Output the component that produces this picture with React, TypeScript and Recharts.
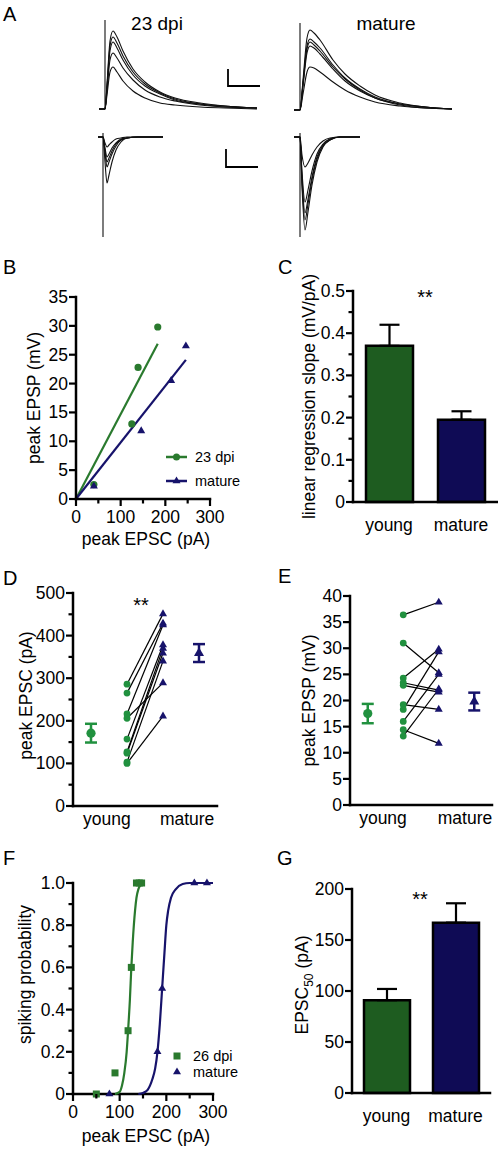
import React from 'react';
import {
  BarChart, Bar, Cell, ErrorBar, XAxis, YAxis, ScatterChart, Scatter,
  LineChart, Line, ReferenceLine, Label,
} from 'recharts';

const FONT = '"Liberation Sans", Arial, Helvetica, sans-serif';
const GREEN_BAR = '#1e5c20';
const NAVY_BAR = '#0f0b55';
const GREEN_DOT = '#21913f';
const GREEN_LINE = '#2a7a2e';
const NAVY = '#17136b';
const AXIS = { stroke: '#000', strokeWidth: 2.5, strokeLinecap: 'square' as const };

// A: example traces, amplitude relative to baseline
const epspYoungTime = [-6, 0, 2, 5, 8, 12, 18, 28, 40, 55, 70, 95, 120, 152];
const epspYoung = [
  [0, 0, 25, 68, 78, 72, 58, 40, 27, 17, 11, 6, 3, 1],
  [0, 0, 23, 63, 72, 66, 53, 37, 25, 16, 10, 5, 3, 1],
  [0, 0, 21, 58, 67, 61, 49, 34, 23, 15, 9, 5, 2, 1],
  [0, 0, 18, 49, 56, 51, 41, 29, 19, 12, 8, 4, 2, 1],
  [0, 0, 14, 37, 42, 37, 28, 18, 11, 6, 4, 2, 1, 0],
];
const epspMatureTime = [-6, 0, 3, 7, 10, 14, 20, 33, 45, 60, 75, 100, 125, 152];
const epspMature = [
  [0, 0, 30, 72, 80, 77, 70, 50, 36, 24, 15, 7, 3, 1],
  [0, 0, 27, 64, 71, 68, 62, 45, 32, 21, 13, 6, 3, 1],
  [0, 0, 26, 61, 68, 65, 59, 43, 31, 20, 12, 6, 3, 1],
  [0, 0, 24, 57, 64, 62, 56, 41, 29, 19, 12, 5, 2, 1],
  [0, 0, 16, 38, 43, 42, 38, 28, 20, 13, 8, 4, 2, 1],
];
const epscYoungTime = [-5, 0, 2, 4, 6, 9, 13, 18, 24, 35, 60];
const epscYoung = [
  [0, 0, -25, -46, -38, -25, -13, -5, -1, 0, 0],
  [0, 0, -16, -30, -25, -17, -9, -3, -1, 0, 0],
  [0, 0, -13, -25, -21, -14, -7, -3, -1, 0, 0],
  [0, 0, -11, -20, -17, -11, -6, -2, -1, 0, 0],
  [0, 0, -6, -10, -8, -5, -2, -1, 0, 0, 0],
];
const epscMatureTime = [-6, 0, 2, 5, 8, 12, 17, 23, 30, 40, 60];
const epscMature = [
  [0, 0, -50, -93, -75, -48, -25, -10, -3, 0, 0],
  [0, 0, -45, -83, -67, -43, -22, -9, -3, 0, 0],
  [0, 0, -40, -76, -62, -40, -20, -8, -2, 0, 0],
  [0, 0, -35, -65, -53, -34, -17, -7, -2, 0, 0],
  [0, 0, -18, -30, -26, -18, -10, -4, -1, 0, 0],
];

// B
const bYoungX = [40, 125, 139, 183];
const bYoungY = [2.5, 13, 22.8, 29.8];
const bMatureX = [40, 146, 213, 246];
const bMatureY = [2.2, 11.8, 20.5, 26.5];
const bFitYoungX = [0, 183];
const bFitYoungY = [0, 26.9];
const bFitMatureX = [0, 246];
const bFitMatureY = [0, 24.1];

// C, G
const groups = ['young', 'mature'];
const slopeMean = [0.37, 0.195];
const slopeSem = [0.05, 0.02];
const ec50Mean = [91, 167];
const ec50Sem = [11, 19];

// D
const dYoung = [100, 103, 124, 127, 157, 206, 216, 265, 286];
const dMature = [211, 340, 359, 370, 378, 289, 425, 429, 451];
const dMean = [171, 359];
const dSem = [22, 21];

// E
const eYoung = [36.4, 31.0, 24.3, 23.4, 22.9, 19.2, 18.3, 16.0, 14.4, 13.2];
const eMature = [38.8, 25.3, 29.8, 22.0, 21.6, 18.3, 29.3, 25.0, 11.8, 22.2];
const eMean = [17.5, 19.8];
const eSem = [1.85, 1.7];

// F
const fYoungX = [50, 90, 118, 125, 136, 142, 147];
const fYoungY = [0, 0.1, 0.3, 0.6, 1, 1, 1];
const fMatureX = [78, 181, 191, 260, 287];
const fMatureY = [0, 0.2, 0.5, 1, 1];
const fYoungCurveX = [90, 100, 105, 110, 115, 118, 122, 125, 128, 133, 136, 140, 145, 150];
const fYoungCurveY = [0, 0.01, 0.04, 0.1, 0.2, 0.3, 0.45, 0.6, 0.72, 0.87, 0.93, 0.97, 0.99, 1];
const fMatureCurveX = [140, 150, 160, 170, 176, 181, 186, 191, 196, 200, 204, 210, 220, 235, 250, 300];
const fMatureCurveY = [0, 0.005, 0.02, 0.07, 0.12, 0.2, 0.33, 0.5, 0.67, 0.8, 0.87, 0.93, 0.97, 0.995, 1, 1];

const pts = (xs: number[], ys: number[]) => xs.map((x, i) => ({ x, y: ys[i] }));
const rowsOf = (times: number[], traces: number[][]) =>
  times.map((t, i) => {
    const r: Record<string, number> = { t };
    traces.forEach((tr, k) => { r['s' + k] = tr[i]; });
    return r;
  });

const triPath = (cx: number, cy: number, s: number) =>
  `M${cx},${cy - s * 0.577}L${cx + s / 2},${cy + s * 0.289}L${cx - s / 2},${cy + s * 0.289}Z`;
const dot = (r: number, fill: string) => (p: any) => <circle cx={p.cx} cy={p.cy} r={r} fill={fill} />;
const tri = (s: number, fill: string) => (p: any) => <path d={triPath(p.cx, p.cy, s)} fill={fill} />;
const sq = (s: number, fill: string) => (p: any) =>
  <rect x={p.cx - s / 2} y={p.cy - s / 2} width={s} height={s} fill={fill} />;
const noShape = () => <g />;

const yTick = (fmt: (v: number) => string) => (p: any) => {
  const label = fmt(p.payload.value);
  const major = label !== '';
  return (
    <g>
      <line x1={p.x} x2={p.x - (major ? 7 : 4.5)} y1={p.y} y2={p.y} stroke="#000" strokeWidth={2.2} />
      {major && (
        <text x={p.x - 8} y={p.y + 6} textAnchor="end" fontSize={17.5} fontFamily={FONT} fill="#000">{label}</text>
      )}
    </g>
  );
};
const xTick = (fmt: (v: number) => string) => (p: any) => {
  const label = fmt(p.payload.value);
  const major = label !== '';
  return (
    <g>
      <line x1={p.x} x2={p.x} y1={p.y} y2={p.y + (major ? 7 : 4.5)} stroke="#000" strokeWidth={2.2} />
      {major && (
        <text x={p.x} y={p.y + 24} textAnchor="middle" fontSize={17.5} fontFamily={FONT} fill="#000">{label}</text>
      )}
    </g>
  );
};
const catTick = (dy: number, pick: (v: any) => string) => (p: any) => (
  <text x={p.x} y={p.y + dy} textAnchor="middle" fontSize={17.5} fontFamily={FONT} fill="#000">
    {pick(p.payload.value)}
  </text>
);
const vLabel = (content: React.ReactNode, dx: number, dyc = 0) => (props: any) => {
  const vb = props.viewBox;
  const cx = vb.x + dx;
  const cy = vb.y + vb.height / 2 + dyc;
  return (
    <text x={cx} y={cy} dy="0.36em" transform={`rotate(-90 ${cx} ${cy})`} textAnchor="middle"
      fontSize={17.5} fontFamily={FONT} fill="#000">{content}</text>
  );
};
const hLabel = (text: string, dx: number, offset: number) => (props: any) => {
  const vb = props.viewBox;
  return (
    <text x={vb.x + vb.width / 2 + dx} y={vb.y + vb.height - offset} textAnchor="middle"
      fontSize={17.5} fontFamily={FONT} fill="#000">{text}</text>
  );
};

const fmtAll = (v: number) => String(v);
const fmt100 = (v: number) => (v % 100 === 0 ? String(v) : '');
const fmtTenth = (v: number) => (Math.round(v * 100) % 10 === 0 ? (v === 0 ? '0' : v.toFixed(1)) : '');
const fmtFifth = (v: number) => (Math.round(v * 10) % 2 === 0 ? (v === 0 ? '0' : v.toFixed(1)) : '');

const at = (left: number, top: number, child: React.ReactNode) => (
  <div style={{ position: 'absolute', left, top }}>{child}</div>
);

function Traces({ times, traces, width, height, xDomain, yDomain, artifact }: any) {
  return (
    <LineChart width={width} height={height} data={rowsOf(times, traces)} margin={{ top: 0, right: 0, bottom: 0, left: 0 }}>
      <XAxis type="number" dataKey="t" domain={xDomain} hide allowDataOverflow />
      <YAxis type="number" domain={yDomain} hide allowDataOverflow />
      {traces.map((_: number[], k: number) => (
        <Line key={k} dataKey={'s' + k} type="monotone" stroke="#111" strokeWidth={1.1} dot={false} isAnimationActive={false} />
      ))}
      <ReferenceLine segment={artifact} stroke="#111" strokeWidth={1.1} ifOverflow="visible" />
    </LineChart>
  );
}

function BarPanel({ mean, sem, yMax, yTicks, fmt, width, height, top, right, yW, xH, barSize, capW, label }: any) {
  const data = groups.map((g, i) => ({ name: g, v: mean[i], err: [0, sem[i]] }));
  return (
    <BarChart width={width} height={height} data={data} margin={{ top, right, left: 0, bottom: 0 }}>
      <XAxis dataKey="name" height={xH} axisLine={AXIS} tickLine={false} tickSize={0} tickMargin={0}
        interval={0} tick={catTick(29, (v) => v)} />
      <YAxis type="number" domain={[0, yMax]} ticks={yTicks} interval={0} width={yW} axisLine={AXIS}
        tickLine={false} tickSize={0} tickMargin={0} tick={yTick(fmt)}>
        <Label content={label} />
      </YAxis>
      <Bar dataKey="v" barSize={barSize} stroke="#000" strokeWidth={2.5} isAnimationActive={false}>
        <Cell fill={GREEN_BAR} />
        <Cell fill={NAVY_BAR} />
        <ErrorBar dataKey="err" direction="y" width={capW} strokeWidth={2.2} stroke="#000" />
      </Bar>
    </BarChart>
  );
}

function PairedPanel({ young, mature, mean, sem, yMax, yTicks, fmt, width, height, top, right, yW, xH, catTicks, label }: any) {
  const youngPts = young.map((v: number) => ({ x: 1.5, y: v }));
  const maturePts = mature.map((v: number) => ({ x: 2.5, y: v }));
  return (
    <ScatterChart width={width} height={height} margin={{ top, right, left: 0, bottom: 0 }}>
      <XAxis type="number" dataKey="x" domain={[0, 4]} ticks={catTicks} interval={0} height={xH} axisLine={AXIS}
        tickLine={false} tickSize={0} tickMargin={0} tick={catTick(19, (v) => (v < 2 ? groups[0] : groups[1]))} />
      <YAxis type="number" dataKey="y" domain={[0, yMax]} ticks={yTicks} interval={0} width={yW} axisLine={AXIS}
        tickLine={false} tickSize={0} tickMargin={0} tick={yTick(fmt)}>
        <Label content={label} />
      </YAxis>
      {young.map((v: number, i: number) => (
        <ReferenceLine key={i} segment={[{ x: 1.5, y: v }, { x: 2.5, y: mature[i] }]} stroke="#000" strokeWidth={1.2} />
      ))}
      <Scatter data={youngPts} shape={dot(3.4, GREEN_DOT)} isAnimationActive={false} />
      <Scatter data={maturePts} shape={tri(8, NAVY)} isAnimationActive={false} />
      <Scatter data={[{ x: 0.5, y: mean[0], err: sem[0] }]} shape={dot(4.6, GREEN_DOT)} isAnimationActive={false}>
        <ErrorBar dataKey="err" direction="y" width={6} strokeWidth={2.5} stroke={GREEN_DOT} />
      </Scatter>
      <Scatter data={[{ x: 3.5, y: mean[1], err: sem[1] }]} shape={tri(10, NAVY)} isAnimationActive={false}>
        <ErrorBar dataKey="err" direction="y" width={6} strokeWidth={2.5} stroke={NAVY} />
      </Scatter>
    </ScatterChart>
  );
}

const txt = (x: number, y: number, s: string, size: number, anchor: 'start' | 'middle' = 'start') => (
  <text x={x} y={y} fontSize={size} fontFamily={FONT} textAnchor={anchor} fill="#000">{s}</text>
);

export default function App() {
  const ticks = (a: number, b: number, step: number) => {
    const out: number[] = [];
    for (let i = 0; a + i * step <= b + 1e-9; i++) out.push(Math.round((a + i * step) * 1000) / 1000);
    return out;
  };
  return (
    <div style={{ position: 'absolute', left: 0, top: 0, width: 498, height: 1149, background: '#fff', overflow: 'hidden', fontFamily: FONT }}>
      {/* A */}
      {at(99, 15, <Traces times={epspYoungTime} traces={epspYoung} width={158} height={100}
        xDomain={[-6, 152]} yDomain={[-6, 94]} artifact={[{ x: 0, y: 0 }, { x: 0, y: 89 }]} />)}
      {at(294, 15, <Traces times={epspMatureTime} traces={epspMature} width={158} height={100}
        xDomain={[-6, 152]} yDomain={[-5, 95]} artifact={[{ x: 0, y: 0 }, { x: 0, y: 87 }]} />)}
      {at(98, 128, <Traces times={epscYoungTime} traces={epscYoung} width={65} height={112}
        xDomain={[-5, 60]} yDomain={[-103, 9]} artifact={[{ x: 0, y: 4 }, { x: 0, y: -100 }]} />)}
      {at(294, 128, <Traces times={epscMatureTime} traces={epscMature} width={66} height={112}
        xDomain={[-6, 60]} yDomain={[-103, 9]} artifact={[{ x: 0, y: 4 }, { x: 0, y: -100 }]} />)}

      {/* B */}
      {at(0, 250, (
        <ScatterChart width={250} height={300} margin={{ top: 47, right: 40, left: 0, bottom: 0 }}>
          <XAxis type="number" dataKey="x" domain={[0, 300]} ticks={ticks(0, 300, 50)} interval={0} height={51}
            axisLine={AXIS} tickLine={false} tickSize={0} tickMargin={0} tick={xTick(fmt100)}>
            <Label content={hLabel('peak EPSC (pA)', 3, 5)} />
          </XAxis>
          <YAxis type="number" dataKey="y" domain={[0, 35]} ticks={ticks(0, 35, 5)} interval={0} width={76}
            axisLine={AXIS} tickLine={false} tickSize={0} tickMargin={0} tick={yTick(fmtAll)}>
            <Label content={vLabel('peak EPSP (mV)', 34)} />
          </YAxis>
          <ReferenceLine segment={pts(bFitYoungX, bFitYoungY)} stroke={GREEN_LINE} strokeWidth={2.2} />
          <ReferenceLine segment={pts(bFitMatureX, bFitMatureY)} stroke={NAVY} strokeWidth={2.2} />
          <Scatter data={pts(bYoungX, bYoungY)} shape={dot(3.6, GREEN_LINE)} isAnimationActive={false} />
          <Scatter data={pts(bMatureX, bMatureY)} shape={tri(8, NAVY)} isAnimationActive={false} />
        </ScatterChart>
      ))}

      {/* C */}
      {at(250, 250, <BarPanel mean={slopeMean} sem={slopeSem} yMax={0.5} yTicks={ticks(0, 0.5, 0.05)} fmt={fmtTenth}
        width={248} height={300} top={41} right={1} yW={103} xH={48} barSize={47} capW={10}
        label={vLabel('linear regression slope (mV/pA)', 59)} />)}

      {/* D */}
      {at(0, 560, <PairedPanel young={dYoung} mature={dMature} mean={dMean} sem={dSem} yMax={500}
        yTicks={ticks(0, 500, 50)} fmt={fmt100} width={250} height={290} top={33} right={33} yW={73} xH={44}
        catTicks={[0.94, 3.17]} label={vLabel('peak EPSC (pA)', 26, -4)} />)}

      {/* E */}
      {at(250, 560, <PairedPanel young={eYoung} mature={eMature} mean={eMean} sem={eSem} yMax={40}
        yTicks={ticks(0, 40, 5)} fmt={fmtAll} width={248} height={290} top={36} right={6} yW={100} xH={45}
        catTicks={[0.93, 3.24]} label={vLabel('peak EPSP (mV)', 59)} />)}

      {/* F */}
      {at(0, 850, (
        <ScatterChart width={250} height={299} margin={{ top: 33, right: 37, left: 0, bottom: 0 }}>
          <XAxis type="number" dataKey="x" domain={[0, 300]} ticks={ticks(0, 300, 50)} interval={0} height={55}
            axisLine={AXIS} tickLine={false} tickSize={0} tickMargin={0} tick={xTick(fmt100)}>
            <Label content={hLabel('peak EPSC (pA)', 3, 7)} />
          </XAxis>
          <YAxis type="number" dataKey="y" domain={[0, 1]} ticks={ticks(0, 1, 0.1)} interval={0} width={73}
            axisLine={AXIS} tickLine={false} tickSize={0} tickMargin={0} tick={yTick(fmtFifth)}>
            <Label content={vLabel('spiking probability', 25, -14)} />
          </YAxis>
          <Scatter data={pts(fYoungCurveX, fYoungCurveY)} line={{ stroke: GREEN_LINE, strokeWidth: 2.2 }}
            lineJointType="monotoneX" shape={noShape} isAnimationActive={false} />
          <Scatter data={pts(fMatureCurveX, fMatureCurveY)} line={{ stroke: NAVY, strokeWidth: 2.2 }}
            lineJointType="monotoneX" shape={noShape} isAnimationActive={false} />
          <Scatter data={pts(fYoungX, fYoungY)} shape={sq(7, GREEN_LINE)} isAnimationActive={false} />
          <Scatter data={pts(fMatureX, fMatureY)} shape={tri(8, NAVY)} isAnimationActive={false} />
        </ScatterChart>
      ))}

      {/* G */}
      {at(250, 850, <BarPanel mean={ec50Mean} sem={ec50Sem} yMax={200} yTicks={ticks(0, 200, 50)} fmt={fmtAll}
        width={248} height={299} top={39} right={8} yW={102} xH={56} barSize={46} capW={10}
        label={vLabel(<>EPSC<tspan fontSize={12} dy={5}>50</tspan><tspan dy={-5}>{'  (pA)'}</tspan></>, 52, -6)} />)}

      {/* overlay: panel letters, titles, scale bars, legends, significance */}
      <svg width={498} height={1149} style={{ position: 'absolute', left: 0, top: 0, pointerEvents: 'none' }}>
        {txt(3, 21, 'A', 20)}
        {txt(3, 274, 'B', 20)}
        {txt(278, 274, 'C', 20)}
        {txt(3, 585, 'D', 20)}
        {txt(278, 583, 'E', 20)}
        {txt(3, 865, 'F', 20)}
        {txt(277, 865, 'G', 20)}
        {txt(157, 30, '23 dpi', 19, 'middle')}
        {txt(386, 30, 'mature', 19, 'middle')}
        <path d="M228,69V86H260" fill="none" stroke="#000" strokeWidth={1.8} />
        <path d="M226,149V167H258" fill="none" stroke="#000" strokeWidth={1.8} />
        {txt(425, 304, '**', 20, 'middle')}
        {txt(141, 612, '**', 20, 'middle')}
        {txt(420, 906, '**', 20, 'middle')}
        <line x1={166} x2={187} y1={457} y2={457} stroke={GREEN_LINE} strokeWidth={2.5} />
        <circle cx={176.5} cy={457} r={3.5} fill={GREEN_LINE} />
        {txt(195, 462, '23 dpi', 14.5)}
        <line x1={166} x2={187} y1={481} y2={481} stroke={NAVY} strokeWidth={2.5} />
        <path d={triPath(176.5, 481, 8)} fill={NAVY} />
        {txt(195, 486, 'mature', 14.5)}
        <rect x={173.5} y={1052.5} width={7} height={7} fill={GREEN_LINE} />
        {txt(193, 1061, '26 dpi', 14.5)}
        <path d={triPath(177, 1072, 8)} fill={NAVY} />
        {txt(193, 1077, 'mature', 14.5)}
      </svg>
    </div>
  );
}
